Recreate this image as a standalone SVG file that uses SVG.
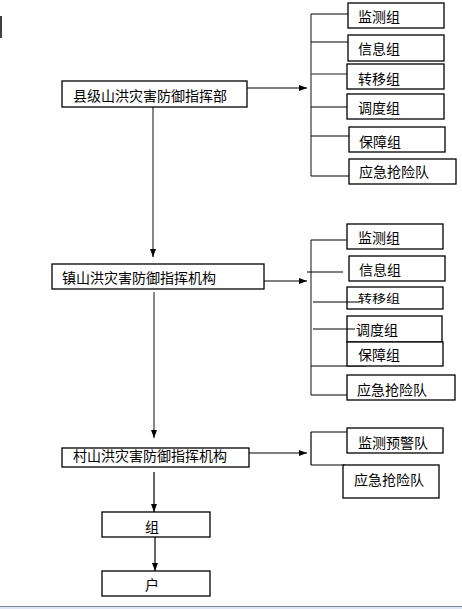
<svg xmlns="http://www.w3.org/2000/svg" width="462" height="609" viewBox="0 0 462 609">
<defs>
<marker id="ah" markerWidth="8" markerHeight="6" refX="8" refY="3" orient="auto" markerUnits="userSpaceOnUse"><path d="M0,0 L8,3 L0,6 z" fill="#000"/></marker>
<style>
.box{fill:#fff;stroke:#000;stroke-width:1.3}
.t{font-family:"Noto Sans CJK SC","Liberation Sans",sans-serif;font-size:14px;fill:#000;dominant-baseline:central}
.c{text-anchor:middle}
.ln{stroke:#000;stroke-width:1.2;fill:none}
.gr{stroke:#6a6a6a;stroke-width:1.6;fill:none}
</style>
</defs>
<rect x="0" y="0" width="462" height="609" fill="#fff"/>
<line x1="1" y1="16" x2="1" y2="38" stroke="#000" stroke-width="1.5"/>
<g id="connectors">
<line class="ln" x1="247" y1="88" x2="307" y2="88" marker-end="url(#ah)"/>
<line class="ln" x1="264" y1="281" x2="307" y2="281" marker-end="url(#ah)"/>
<line class="ln" x1="249" y1="453" x2="307" y2="453" marker-end="url(#ah)"/>
<line class="gr" x1="153" y1="107" x2="153" y2="250"/>
<line class="ln" x1="153" y1="249" x2="153" y2="257" marker-end="url(#ah)"/>
<line class="gr" x1="154" y1="292" x2="154" y2="438" marker-end="url(#ah)"/>
<line class="ln" x1="154" y1="472" x2="154" y2="512" marker-end="url(#ah)"/>
<line class="ln" x1="155" y1="537" x2="155" y2="571" marker-end="url(#ah)"/>
<line class="gr" x1="311" y1="14" x2="311" y2="176"/>
<line class="ln" x1="311" y1="14" x2="348" y2="14"/>
<line class="ln" x1="311" y1="42" x2="348" y2="42"/>
<line class="gr" x1="311" y1="74" x2="347" y2="74"/>
<line class="ln" x1="311" y1="107" x2="347" y2="107"/>
<line class="ln" x1="311" y1="136" x2="349" y2="136"/>
<line class="ln" x1="311" y1="176" x2="349" y2="176"/>
<line class="gr" x1="311" y1="240" x2="311" y2="395"/>
<line class="ln" x1="311" y1="240" x2="347" y2="240"/>
<line class="ln" x1="307" y1="272" x2="343" y2="272"/>
<line class="ln" x1="366" y1="366" x2="311" y2="366"/>
<line class="ln" x1="311" y1="395" x2="347" y2="395"/>
<line class="ln" x1="311" y1="432" x2="311" y2="465"/>
<line class="ln" x1="311" y1="432" x2="347" y2="432"/>
<line class="ln" x1="311" y1="465" x2="345" y2="465"/>
</g>
<g id="county"><rect class="box" x="62" y="81" width="185" height="26"/><text class="t" x="73" y="95">县级山洪灾害防御指挥部</text></g>
<g id="c1"><rect class="box" x="348" y="3" width="96" height="25"/><text class="t" x="358" y="16">监测组</text></g>
<g id="c2"><rect class="box" x="348" y="35" width="96" height="26"/><text class="t" x="358" y="48">信息组</text></g>
<g id="c3"><rect class="box" x="347" y="64" width="97" height="25"/><text class="t" x="358" y="78">转移组</text></g>
<g id="c4"><rect class="box" x="347" y="94" width="97" height="25"/><text class="t" x="358" y="107">调度组</text></g>
<g id="c5"><rect class="box" x="349" y="127" width="96" height="25"/><text class="t" x="359" y="141">保障组</text></g>
<g id="c6"><rect class="box" x="349" y="159" width="107" height="25"/><text class="t" x="359" y="171">应急抢险队</text></g>
<g id="town"><rect class="box" x="52" y="264" width="212" height="25"/><text class="t" x="62" y="277">镇山洪灾害防御指挥机构</text></g>
<g id="t1"><rect class="box" x="347" y="224" width="96" height="25"/><text class="t" x="358" y="237">监测组</text></g>
<g id="t2"><rect class="box" x="349" y="256" width="96" height="25"/><text class="t" x="359" y="269">信息组</text></g>
<g id="t3"><rect class="box" x="347" y="287" width="96" height="22"/><text class="t" x="358" y="0" transform="translate(0,298) scale(1,0.8)">转移组</text></g>
<line class="ln" x1="313" y1="302" x2="360" y2="302"/>
<g id="t4"><rect class="box" x="347" y="316" width="95" height="26"/><text class="t" x="356" y="329">调度组</text></g>
<line class="ln" x1="313" y1="329" x2="355" y2="329"/>
<g id="t5"><rect class="box" x="347" y="342" width="96" height="24"/><text class="t" x="358" y="354">保障组</text></g>
<g id="t6"><rect class="box" x="347" y="375" width="108" height="25"/><text class="t" x="357" y="389">应急抢险队</text></g>
<g id="village"><rect class="box" x="62" y="448" width="187" height="19"/><text class="t" x="73" y="455">村山洪灾害防御指挥机构</text></g>
<g id="v1"><rect class="box" x="347" y="428" width="96" height="25"/><text class="t" x="358" y="442">监测预警队</text></g>
<g id="v2"><rect class="box" x="343" y="465" width="96" height="33"/><text class="t" x="354" y="479">应急抢险队</text></g>
<g id="group"><rect class="box" x="102" y="512" width="108" height="25"/><text class="t c" x="152" y="526">组</text></g>
<g id="household"><rect class="box" x="102" y="571" width="108" height="25"/><text class="t c" x="152" y="584">户</text></g>
<rect x="0" y="607" width="462" height="2" fill="#dde8f4"/>
<line x1="0" y1="606.5" x2="462" y2="606.5" stroke="#7d8c9c" stroke-width="1"/>
</svg>
